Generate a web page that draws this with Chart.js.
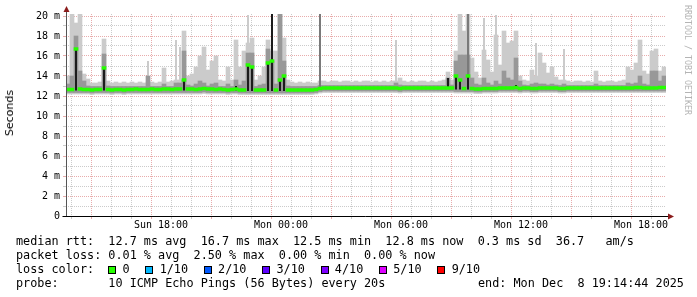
<!DOCTYPE html>
<html>
<head>
<meta charset="utf-8">
<script src="https://cdn.jsdelivr.net/npm/chart.js@4.4.1/dist/chart.umd.min.js"></script>
<style>
    html, body { margin: 0; padding: 0; background: #fff; }
    #wrap { position: relative; width: 697px; height: 297px; overflow: hidden; }
    #c { position: absolute; left: 0; top: 0; }
    .mono { position: absolute; font-family: 'DejaVu Sans Mono', monospace; font-size: 11.8px; white-space: pre; color: #000; line-height: 14px; }
    .box { display: inline-block; width: 6px; height: 6px; border: 1px solid #000; margin-right: 6.2px; vertical-align: -0.5px; }
    .lbl { margin-right: 15.8px; }
    #ytitle { position: absolute; left: 3px; top: 90px; font-family: 'DejaVu Sans', sans-serif; font-size: 11px; writing-mode: vertical-rl; transform: rotate(180deg); color: #000; }
    #credit { position: absolute; left: 683px; top: 5px; font-family: 'DejaVu Sans Mono', monospace; font-size: 8.3px; writing-mode: vertical-rl; color: #b4b4b4; }
</style>
</head>
<body>
<div id="wrap">
    <canvas id="c" width="697" height="297"></canvas>
    <div id="ytitle">Seconds</div>
    <div id="credit">RRDTOOL / TOBI OETIKER</div>
    <div id="legend"></div>
</div>
<script>
// time axis: hours since Sun 00:00, one sample every 12 minutes
const START_HOUR = 13.25;
const END_HOUR = 43.25;
const FIRST_SAMPLE = 13.35;
const SAMPLE_STEP = 0.2;

const tickHours = [18, 24, 30, 36, 42];
const tickLabels = ['Sun 18:00', 'Mon 00:00', 'Mon 06:00', 'Mon 12:00', 'Mon 18:00'];

// median rtt per sample (ms)
const median = [
    12.65, 12.65, 16.7, 12.7, 12.65, 12.65, 12.6, 12.65, 12.65, 14.8,
    12.65, 12.6, 12.65, 12.65, 12.6, 12.65, 12.65, 12.7, 12.65, 12.65,
    12.65, 12.7, 12.65, 12.65, 12.7, 12.7, 12.65, 12.7, 12.7, 13.6,
    12.7, 12.7, 12.65, 12.7, 12.75, 12.7, 12.7, 12.65, 12.7, 12.65,
    12.6, 12.65, 12.7, 12.6, 12.6, 15.1, 14.9, 12.6, 12.6, 12.6,
    15.3, 15.5, 12.6, 13.6, 14.0, 12.6, 12.6, 12.6, 12.6, 12.6,
    12.6, 12.6, 12.65, 12.75, 12.8, 12.8, 12.8, 12.8, 12.8, 12.8,
    12.8, 12.8, 12.8, 12.8, 12.8, 12.8, 12.8, 12.8, 12.8, 12.8,
    12.8, 12.8, 12.8, 12.75, 12.8, 12.8, 12.8, 12.8, 12.8, 12.8,
    12.8, 12.8, 12.8, 12.8, 12.8, 12.8, 12.8, 14.0, 13.6, 12.75,
    14.0, 12.75, 12.7, 12.7, 12.75, 12.75, 12.75, 12.75, 12.8, 12.8,
    12.8, 12.8, 12.85, 12.75, 12.8, 12.8, 12.75, 12.75, 12.8, 12.8,
    12.8, 12.8, 12.8, 12.75, 12.75, 12.8, 12.8, 12.8, 12.8, 12.8,
    12.8, 12.8, 12.8, 12.8, 12.8, 12.8, 12.8, 12.8, 12.8, 12.8,
    12.8, 12.8, 12.85, 12.85, 12.8, 12.8, 12.8, 12.8, 12.85, 12.85
];

// slowest ping per sample (top of the light smoke)
const smokeTop = [
    14.0, 20.2, 19.3, 20.2, 14.2, 13.7, 13.3, 13.3, 13.4, 17.7,
    13.5, 13.3, 13.4, 13.3, 13.4, 13.3, 13.4, 13.3, 13.4, 13.3,
    13.4, 13.4, 13.3, 13.4, 14.8, 13.4, 13.5, 13.6, 13.6, 18.5,
    14.0, 14.2, 14.9, 16.0, 16.9, 14.6, 15.5, 16.0, 13.6, 13.5,
    14.9, 13.6, 17.6, 14.9, 16.5, 17.3, 17.8, 13.6, 14.0, 14.9,
    17.6, 16.5, 16.5, 20.2, 17.8, 13.6, 13.4, 13.3, 13.4, 13.3,
    13.4, 13.3, 13.3, 13.5, 13.5, 13.4, 13.5, 13.5, 13.4, 13.5,
    13.5, 13.4, 13.5, 13.4, 13.5, 13.5, 13.4, 13.5, 13.4, 13.5,
    13.4, 13.5, 13.5, 13.8, 13.5, 13.4, 13.5, 13.4, 13.5, 13.5,
    13.4, 13.5, 13.4, 13.5, 13.6, 14.4, 13.6, 16.5, 20.2, 18.5,
    20.2, 15.8, 14.4, 13.8, 16.6, 15.6, 14.4, 18.1, 15.1, 18.5,
    17.3, 17.5, 18.5, 14.0, 13.6, 13.5, 14.6, 14.0, 16.3, 15.3,
    14.3, 14.9, 13.9, 13.6, 13.6, 13.5, 13.4, 13.5, 13.5, 13.4,
    13.5, 13.4, 14.5, 13.5, 13.4, 13.5, 13.5, 13.4, 13.5, 13.6,
    14.9, 14.6, 15.3, 17.6, 14.5, 14.2, 16.5, 16.7, 14.5, 14.9
];

// fastest ping per sample (bottom of the smoke)
const smokeLow = [
    12.2, 12.2, 12.2, 12.2, 12.2, 12.2, 12.15, 12.2, 12.2, 12.2,
    12.2, 12.15, 12.2, 12.2, 12.15, 12.2, 12.2, 12.2, 12.2, 12.2,
    12.2, 12.2, 12.2, 12.2, 12.2, 12.2, 12.2, 12.2, 12.2, 12.2,
    12.2, 12.2, 12.2, 12.2, 12.25, 12.2, 12.2, 12.2, 12.2, 12.2,
    12.15, 12.2, 12.2, 12.15, 12.15, 12.15, 12.15, 12.15, 12.15, 12.15,
    12.15, 12.15, 12.15, 12.15, 12.15, 12.15, 12.15, 12.15, 12.15, 12.15,
    12.15, 12.15, 12.2, 12.3, 12.35, 12.35, 12.35, 12.35, 12.35, 12.35,
    12.35, 12.35, 12.35, 12.35, 12.35, 12.35, 12.35, 12.35, 12.35, 12.35,
    12.35, 12.35, 12.35, 12.3, 12.35, 12.35, 12.35, 12.35, 12.35, 12.35,
    12.35, 12.35, 12.35, 12.35, 12.35, 12.35, 12.35, 12.3, 12.3, 12.3,
    12.3, 12.3, 12.25, 12.25, 12.3, 12.3, 12.3, 12.3, 12.35, 12.35,
    12.35, 12.35, 12.35, 12.3, 12.35, 12.35, 12.3, 12.3, 12.35, 12.35,
    12.35, 12.35, 12.35, 12.3, 12.3, 12.35, 12.35, 12.35, 12.35, 12.35,
    12.35, 12.35, 12.35, 12.35, 12.35, 12.35, 12.35, 12.35, 12.35, 12.35,
    12.35, 12.35, 12.35, 12.35, 12.35, 12.35, 12.35, 12.35, 12.35, 12.35
];

// top of the denser (mid grey) smoke
const midTop = [
    13.2, 14.0, 18.0, 14.5, 13.5, 13.0, 12.95, 12.95, 12.95, 16.2,
    13.0, 12.95, 12.95, 12.95, 12.95, 12.95, 12.95, 12.95, 12.95, 12.95,
    14.0, 12.95, 12.95, 12.95, 13.2, 12.95, 12.95, 13.3, 13.3, 16.5,
    13.1, 13.0, 13.2, 13.5, 13.3, 13.0, 13.2, 13.3, 12.95, 12.95,
    13.2, 12.95, 13.6, 13.1, 13.5, 16.3, 16.3, 12.95, 13.1, 13.2,
    16.7, 15.5, 13.2, 20.2, 15.5, 13.0, 12.95, 12.95, 12.95, 12.95,
    12.95, 12.95, 12.95, 13.05, 13.05, 13.05, 13.05, 13.05, 13.05, 13.05,
    13.05, 13.05, 13.05, 13.05, 13.05, 13.05, 13.05, 13.05, 13.05, 13.05,
    13.05, 13.05, 13.3, 13.1, 13.05, 13.05, 13.05, 13.05, 13.05, 13.05,
    13.05, 13.05, 13.05, 13.05, 13.05, 13.8, 13.1, 15.5, 16.1, 16.1,
    16.1, 13.8, 13.2, 13.1, 13.8, 13.3, 13.1, 13.5, 13.2, 14.5,
    13.8, 13.6, 15.8, 13.5, 13.1, 13.05, 13.2, 13.3, 13.2, 13.2,
    13.1, 13.2, 13.1, 13.05, 13.2, 13.05, 13.05, 13.05, 13.05, 13.05,
    13.05, 13.05, 13.2, 13.05, 13.05, 13.05, 13.05, 13.05, 13.05, 13.05,
    13.3, 13.2, 13.3, 14.0, 13.2, 13.1, 14.5, 14.5, 13.5, 14.0
];

// samples where most pings pile up high (black smoke)
const blackCols = [2, 9, 29, 42, 45, 46, 50, 51, 53, 54, 95, 97, 98, 100, 112];
const blackTops = [16.7, 14.8, 13.6, 13.0, 15.1, 14.9, 15.3, 15.5, 13.6, 14.0, 13.8, 14.0, 13.6, 14.0, 13.1];

// single very slow pings drawn as thin needles
const needleCols = [20, 27, 28, 45, 82, 104, 107, 117, 124];
const needleTops = [15.5, 17.6, 16.9, 20.1, 17.6, 19.8, 20.1, 17.3, 16.7];
const darkNeedleCols = [63, 100, 51];
const darkNeedleTops = [20.2, 20.2, 20.2];
const darkNeedleShades = ['#7a7a7a', '#7a7a7a', '#1c1c1c'];

const legendLines = [
    'median rtt:  12.7 ms avg  16.7 ms max  12.5 ms min  12.8 ms now  0.3 ms sd  36.7   am/s',
    'packet loss: 0.01 % avg  2.50 % max  0.00 % min  0.00 % now'
];
const lossLabels = ['0', '1/10', '2/10', '3/10', '4/10', '5/10', '9/10'];
const lossColors = ['#26ff00', '#00b8ff', '#0059ff', '#5e00ff', '#7e00ff', '#dd00ff', '#ff0000'];
const probeText = '10 ICMP Echo Pings (56 Bytes) every 20s';
const endText = 'end: Mon Dec  8 19:14:44 2025';

const GRID_GREY = 'rgba(160, 160, 160, 0.55)';
const GRID_RED = 'rgba(210, 90, 90, 0.5)';
const MEDIAN_HALF = 0.14;

const times = median.map((_, i) => FIRST_SAMPLE + i * SAMPLE_STEP);

const lightData = times.map((t, i) => ({ x: t, y: [smokeLow[i], smokeTop[i]] }));
const midData = times.map((t, i) => ({ x: t, y: [smokeLow[i] + 0.15, midTop[i]] }));
const blackData = blackCols.map((c, k) => ({ x: times[c], y: [smokeLow[c] + 0.35, blackTops[k]] }));
const needleData = needleCols.map((c, k) => ({ x: times[c], y: [smokeLow[c], needleTops[k]] }));
const darkNeedleData = darkNeedleCols.map((c, k) => ({ x: times[c], y: [smokeLow[c] + 0.35, darkNeedleTops[k]] }));
const medianData = times.map((t, i) => ({ x: t, y: [median[i] - MEDIAN_HALF, median[i] + MEDIAN_HALF] }));

function barSet(data, color, order, width) {
    return {
        type: 'bar',
        data: data,
        backgroundColor: color,
        borderWidth: 0,
        grouped: false,
        barPercentage: width || 1,
        categoryPercentage: 1,
        order: order
    };
}

// axis lines with arrow heads, like rrdtool draws them
const rrdAxes = {
    id: 'rrdAxes',
    afterDraw(chart) {
        const { ctx, chartArea: a } = chart;
        const yBase = Math.round(a.bottom) + 0.5;
        const xLeft = Math.round(a.left) + 0.5;
        ctx.save();
        ctx.lineWidth = 1;
        ctx.strokeStyle = '#555';
        ctx.beginPath();
        ctx.moveTo(xLeft, yBase);
        ctx.lineTo(xLeft, a.top - 3);
        ctx.stroke();
        ctx.strokeStyle = '#000';
        ctx.beginPath();
        ctx.moveTo(xLeft - 4, yBase);
        ctx.lineTo(a.right + 3, yBase);
        ctx.stroke();
        ctx.fillStyle = '#8b1c1c';
        ctx.beginPath();
        ctx.moveTo(a.right + 2, yBase - 3);
        ctx.lineTo(a.right + 8, yBase);
        ctx.lineTo(a.right + 2, yBase + 3);
        ctx.closePath();
        ctx.fill();
        ctx.beginPath();
        ctx.moveTo(xLeft - 3, a.top - 2);
        ctx.lineTo(xLeft, a.top - 8);
        ctx.lineTo(xLeft + 3, a.top - 2);
        ctx.closePath();
        ctx.fill();
        ctx.restore();
    }
};

const tickFont = { family: "'DejaVu Sans Mono', monospace", size: 10 };

new Chart(document.getElementById('c'), {
    type: 'bar',
    data: {
        datasets: [
            barSet(medianData, lossColors[0], 1),
            barSet(blackData, '#1c1c1c', 2, 0.5),
            barSet(darkNeedleData, darkNeedleShades, 3, 0.5),
            barSet(midData, '#989898', 4),
            barSet(lightData, '#cbcbcb', 5),
            barSet(needleData, '#cbcbcb', 6, 0.5)
        ]
    },
    options: {
        responsive: false,
        animation: false,
        devicePixelRatio: 1,
        layout: { padding: { left: 0, right: 31, top: 14, bottom: 55 } },
        plugins: { legend: { display: false }, tooltip: { enabled: false } },
        scales: {
            x: {
                type: 'linear',
                min: START_HOUR,
                max: END_HOUR,
                offset: false,
                afterBuildTicks: scale => {
                    const ticks = [];
                    for (let h = Math.ceil(START_HOUR); h <= END_HOUR; h++) ticks.push({ value: h });
                    scale.ticks = ticks;
                },
                afterFit: scale => { scale.height = 26; },
                grid: {
                    color: ctx => (ctx.tick && ctx.tick.value % 3 === 0) ? GRID_RED : GRID_GREY,
                    lineWidth: 1,
                    drawTicks: true,
                    tickLength: 3
                },
                border: { display: false, dash: [1, 1] },
                ticks: {
                    autoSkip: false,
                    maxRotation: 0,
                    padding: 0,
                    color: '#000',
                    font: tickFont,
                    callback: value => {
                        const k = tickHours.indexOf(value);
                        return k >= 0 ? tickLabels[k] : '';
                    }
                }
            },
            y: {
                min: 0,
                max: 20.2,
                afterBuildTicks: scale => {
                    const ticks = [];
                    for (let v = 0; v <= 20; v++) ticks.push({ value: v });
                    scale.ticks = ticks;
                },
                afterFit: scale => { scale.width = 66; },
                grid: {
                    color: ctx => (ctx.tick && ctx.tick.value % 2 === 0) ? GRID_RED : GRID_GREY,
                    lineWidth: 1,
                    drawTicks: true,
                    tickLength: 3
                },
                border: { display: false, dash: [1, 1] },
                ticks: {
                    autoSkip: false,
                    padding: 3,
                    color: '#000',
                    font: tickFont,
                    callback: value => value % 2 !== 0 ? '' : (value === 0 ? '0' : value + ' m')
                }
            }
        }
    },
    plugins: [rrdAxes]
});

// text legend under the graph
function buildLegend() {
    const holder = document.getElementById('legend');
    const tops = [234, 248, 262, 276];
    legendLines.forEach((line, i) => {
        const div = document.createElement('div');
        div.className = 'mono';
        div.style.left = '16px';
        div.style.top = tops[i] + 'px';
        div.textContent = line;
        holder.appendChild(div);
    });

    const loss = document.createElement('div');
    loss.className = 'mono';
    loss.style.left = '16px';
    loss.style.top = tops[2] + 'px';
    let html = 'loss color:  ';
    lossLabels.forEach((lbl, i) => {
        html += `<span class="box" style="background:${lossColors[i]}"></span><span class="lbl">${lbl}</span>`;
    });
    loss.innerHTML = html;
    holder.appendChild(loss);

    const probe = document.createElement('div');
    probe.className = 'mono';
    probe.style.left = '16px';
    probe.style.top = tops[3] + 'px';
    probe.textContent = 'probe:       ' + probeText;
    holder.appendChild(probe);

    const end = document.createElement('div');
    end.className = 'mono';
    end.style.left = '478px';
    end.style.top = tops[3] + 'px';
    end.textContent = endText;
    holder.appendChild(end);
}

buildLegend();
</script>
</body>
</html>
